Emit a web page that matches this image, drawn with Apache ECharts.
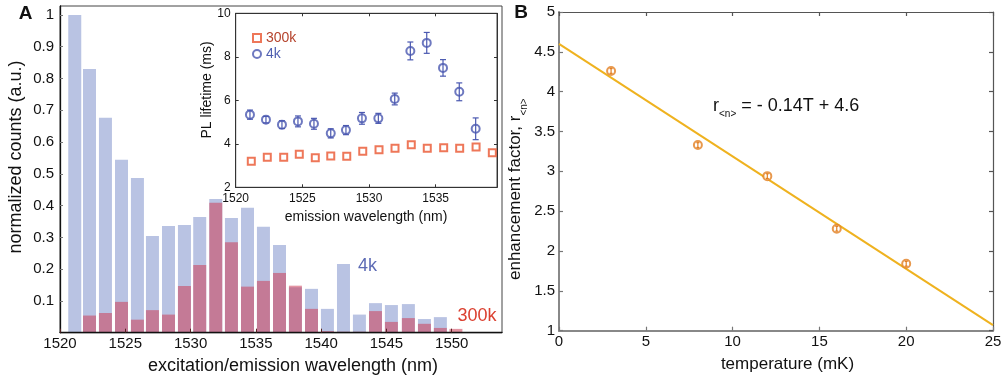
<!DOCTYPE html>
<html><head><meta charset="utf-8">
<script src="https://cdn.jsdelivr.net/npm/echarts@6/dist/echarts.min.js"></script>
<style>html,body{margin:0;padding:0;background:#fff}#c{width:1006px;height:381px}</style>
</head><body><div id="c"></div>
<script>
// ---- Panel A: histogram ----
const wavelengths = [1521.13,1522.26,1523.48,1524.71,1525.93,1527.08,1528.31,1529.53,1530.70,1531.93,1533.13,1534.36,1535.58,1536.81,1538.03,1539.26,1540.48,1541.71,1542.93,1544.16,1545.38,1546.68,1547.91,1549.13,1550.32];
const counts4k = [1.000,0.830,0.676,0.544,0.487,0.304,0.336,0.339,0.364,0.421,0.361,0.393,0.333,0.276,0.143,0.138,0.075,0.216,0.057,0.093,0.087,0.090,0.043,0.049,0];
const counts300k = [0,0.054,0.062,0.097,0.041,0.071,0.057,0.147,0.213,0.409,0.285,0.145,0.163,0.188,0.148,0.075,0.005,0.003,0.003,0.068,0.034,0.046,0.028,0.015,0.012];

// ---- Panel A inset: PL lifetime ----
const insetWl4k = [1521.07,1522.27,1523.47,1524.67,1525.87,1527.13,1528.27,1529.47,1530.70,1531.93,1533.10,1534.33,1535.55,1536.77,1538.00];
const lifetime4k = [5.34,5.11,4.88,5.03,4.92,4.48,4.63,5.17,5.17,6.06,8.27,8.64,7.49,6.39,4.69];
const lifetime4kErr = [0.21,0.15,0.18,0.25,0.25,0.21,0.21,0.27,0.23,0.27,0.41,0.48,0.38,0.41,0.50];
const insetWl300k = [1521.17,1522.37,1523.60,1524.77,1525.97,1527.13,1528.33,1529.53,1530.75,1531.95,1533.17,1534.37,1535.60,1536.80,1538.03,1539.25];
const lifetime300k = [3.20,3.38,3.38,3.52,3.36,3.44,3.43,3.66,3.73,3.80,3.96,3.80,3.82,3.80,3.85,3.59];

// ---- Panel B: enhancement factor ----
const temperatures = [3,8,12,16,20];
const enhancement = [4.26,3.33,2.94,2.28,1.84];
const enhancementErr = [0.03,0.03,0.03,0.03,0.03];
const fitT = [0,25];
const fitR = [4.6,1.07];

const FONT = "'Liberation Sans', Arial, Helvetica, sans-serif";
const chart = echarts.init(document.getElementById('c'), null, {renderer:'canvas'});

function errRenderer(color, cap, lw){
  return function(params, api){
    const lo = api.coord([api.value(0), api.value(1)]);
    const hi = api.coord([api.value(0), api.value(2)]);
    const st = {stroke: color, lineWidth: lw};
    return {type:'group', children:[
      {type:'line', shape:{x1:lo[0],y1:lo[1],x2:hi[0],y2:hi[1]}, style:st},
      {type:'line', shape:{x1:lo[0]-cap,y1:lo[1],x2:lo[0]+cap,y2:lo[1]}, style:st},
      {type:'line', shape:{x1:hi[0]-cap,y1:hi[1],x2:hi[0]+cap,y2:hi[1]}, style:st}
    ]};
  };
}

const plain = v => String(+(+v).toFixed(3));
const lbl = (size, margin, extra) => Object.assign({fontFamily:FONT, fontSize:size, color:'#111', margin:margin, formatter:plain}, extra||{});

const option = {
  animation:false,
  backgroundColor:'#fff',
  grid:[
    {left:60, top:6, width:442, height:326.7, show:true, borderColor:'#444', borderWidth:1, z:0},
    {left:235.7, top:13.3, width:261.3, height:174, show:true, backgroundColor:'#fff', borderColor:'#444', borderWidth:1, z:10},
    {left:559, top:12, width:434, height:318.7, show:false, z:0}
  ],
  legend:{
    data:[{name:'300k', textStyle:{color:'#b5432c'}},{name:'4k', textStyle:{color:'#4f5fb0'}}],
    orient:'vertical', left:252, top:31, padding:0, itemGap:2, itemWidth:8, itemHeight:8,
    textStyle:{fontFamily:FONT, fontSize:14}, z:20, selectedMode:false
  },
  xAxis:[
    {gridIndex:0, type:'value', min:1520, max:1553.85, interval:5, z:3,
     axisLine:{onZero:false, lineStyle:{color:'#111', width:1.3}},
     axisTick:{inside:true, length:4, lineStyle:{color:'#552222'}},
     axisLabel:lbl(15,4,{showMaxLabel:false}), splitLine:{show:false}},
    {gridIndex:1, type:'value', min:1520, max:1539.6, interval:5, z:11,
     axisLine:{onZero:false, lineStyle:{color:'#333', width:1}},
     axisTick:{inside:true, length:3, lineStyle:{color:'#333'}},
     axisLabel:lbl(12,5,{showMaxLabel:false}), splitLine:{show:false}},
    {gridIndex:1, type:'value', position:'top', min:1520, max:1539.6, interval:5, z:11,
     axisLine:{onZero:false, lineStyle:{color:'#333', width:1}},
     axisTick:{inside:true, length:3, lineStyle:{color:'#333'}},
     axisLabel:{show:false}, splitLine:{show:false}},
    {gridIndex:2, type:'value', min:0, max:25, interval:5,
     axisLine:{onZero:false, lineStyle:{color:'#888', width:2}},
     axisTick:{inside:true, length:4, lineStyle:{color:'#777', width:1.2}},
     axisLabel:lbl(15,4), splitLine:{show:false}},
    {gridIndex:2, type:'value', position:'top', min:0, max:25, interval:5,
     axisLine:{onZero:false, lineStyle:{color:'#555', width:1.2}},
     axisTick:{inside:true, length:4, lineStyle:{color:'#555', width:1.2}},
     axisLabel:{show:false}, splitLine:{show:false}}
  ],
  yAxis:[
    {gridIndex:0, type:'value', min:0, max:1.028, interval:0.1, z:3,
     axisLine:{show:true, onZero:false, lineStyle:{color:'#111', width:1.3}},
     axisTick:{show:true, inside:true, length:3, lineStyle:{color:'#777'}},
     axisLabel:lbl(15,6,{showMinLabel:false, showMaxLabel:false}), splitLine:{show:false}},
    {gridIndex:1, type:'value', min:2, max:10, interval:2, z:11,
     axisLine:{show:true, onZero:false, lineStyle:{color:'#333', width:1}},
     axisTick:{show:true, inside:true, length:3, lineStyle:{color:'#333'}},
     axisLabel:lbl(12,5), splitLine:{show:false}},
    {gridIndex:1, type:'value', position:'right', min:2, max:10, interval:2, z:11,
     axisLine:{show:true, onZero:false, lineStyle:{color:'#333', width:1}},
     axisTick:{show:true, inside:true, length:3, lineStyle:{color:'#333'}},
     axisLabel:{show:false}, splitLine:{show:false}},
    {gridIndex:2, type:'value', min:1, max:5, interval:0.5,
     axisLine:{show:true, onZero:false, lineStyle:{color:'#888', width:2}},
     axisTick:{show:true, inside:true, length:4, lineStyle:{color:'#777', width:1.2}},
     axisLabel:lbl(15,4), splitLine:{show:false}},
    {gridIndex:2, type:'value', position:'right', min:1, max:5, interval:0.5,
     axisLine:{show:true, onZero:false, lineStyle:{color:'#555', width:1.2}},
     axisTick:{show:true, inside:true, length:4, lineStyle:{color:'#555', width:1.2}},
     axisLabel:{show:false}, splitLine:{show:false}}
  ],
  series:[
    {name:'bars4k', type:'bar', xAxisIndex:0, yAxisIndex:0, barWidth:13, barGap:'-100%',
     data: wavelengths.map((w,i)=>[w, counts4k[i]]), itemStyle:{color:'#b9c3e3'}, z:2},
    {name:'bars300k', type:'bar', xAxisIndex:0, yAxisIndex:0, barWidth:13, barGap:'-100%',
     data: wavelengths.map((w,i)=>[w, counts300k[i]]), itemStyle:{color:'rgba(205,62,87,0.55)'}, z:2},
    {name:'300k', type:'scatter', xAxisIndex:1, yAxisIndex:1, symbol:'emptyRect', symbolSize:7,
     data: insetWl300k.map((w,i)=>[w, lifetime300k[i]]), itemStyle:{color:'#ea5530', borderWidth:1.3}, z:12},
    {name:'4k', type:'scatter', xAxisIndex:1, yAxisIndex:1, symbol:'emptyCircle', symbolSize:8,
     data: insetWl4k.map((w,i)=>[w, lifetime4k[i]]), itemStyle:{color:'#4a58b0', borderWidth:1.2}, z:12},
    {name:'4kErr', type:'custom', xAxisIndex:1, yAxisIndex:1, z:13,
     data: insetWl4k.map((w,i)=>[w, lifetime4k[i]-lifetime4kErr[i], lifetime4k[i]+lifetime4kErr[i]]),
     renderItem: errRenderer('#4a58b0', 3, 1.2)},
    {name:'fit', type:'line', xAxisIndex:3, yAxisIndex:3, showSymbol:false, symbol:'none',
     data: fitT.map((t,i)=>[t, fitR[i]]), lineStyle:{color:'#efb21f', width:2}, z:2},
    {name:'enh', type:'scatter', xAxisIndex:3, yAxisIndex:3, symbol:'emptyCircle', symbolSize:8,
     data: temperatures.map((t,i)=>[t, enhancement[i]]), itemStyle:{color:'#e27f22', borderWidth:2.2}, z:3},
    {name:'enhErr', type:'custom', xAxisIndex:3, yAxisIndex:3, z:4,
     data: temperatures.map((t,i)=>[t, enhancement[i]-enhancementErr[i], enhancement[i]+enhancementErr[i]]),
     renderItem: errRenderer('#e27f22', 1.5, 1.2)}
  ],
  graphic:[
    {type:'text', x:25.5, y:13.5, z:100, style:{text:'A', font:'bold 19px '+FONT, align:'center', verticalAlign:'middle', fill:'#111'}},
    {type:'text', x:521, y:13, z:100, style:{text:'B', font:'bold 19px '+FONT, align:'center', verticalAlign:'middle', fill:'#111'}},
    {type:'text', x:16, y:157, rotation:Math.PI/2, z:100, style:{text:'normalized counts (a.u.)', font:'18px '+FONT, align:'center', verticalAlign:'middle', fill:'#111'}},
    {type:'text', x:293, y:366, z:100, style:{text:'excitation/emission wavelength (nm)', font:'18px '+FONT, align:'center', verticalAlign:'middle', fill:'#111'}},
    {type:'text', x:366, y:217.5, z:100, style:{text:'emission wavelength (nm)', font:'14px '+FONT, align:'center', verticalAlign:'middle', fill:'#111'}},
    {type:'text', x:207, y:90, rotation:Math.PI/2, z:100, style:{text:'PL lifetime (ms)', font:'14px '+FONT, align:'center', verticalAlign:'middle', fill:'#111'}},
    {type:'text', x:367.5, y:266, z:100, style:{text:'4k', font:'18px '+FONT, align:'center', verticalAlign:'middle', fill:'#5d6bb5'}},
    {type:'text', x:477, y:316.5, z:100, style:{text:'300k', font:'18px '+FONT, align:'center', verticalAlign:'middle', fill:'#db4030'}},
    {type:'text', x:787.5, y:364.5, z:100, style:{text:'temperature (mK)', font:'17px '+FONT, align:'center', verticalAlign:'middle', fill:'#111'}},
    {type:'text', x:507, y:280, rotation:Math.PI/2, z:100, style:{
      text:'{m|enhancement factor, r}{s|<n>}', align:'left', verticalAlign:'top', fill:'#111',
      rich:{m:{fontFamily:FONT, fontSize:17, lineHeight:20, verticalAlign:'top'},
            s:{fontFamily:FONT, fontSize:10, verticalAlign:'bottom', padding:[12,0,0,0]}}}},
    {type:'text', x:713, y:97, z:100, style:{
      text:'{m|r}{s|<n>}{m| = - 0.14T + 4.6}', align:'left', verticalAlign:'top', fill:'#111',
      rich:{m:{fontFamily:FONT, fontSize:18, lineHeight:20, verticalAlign:'top'},
            s:{fontFamily:FONT, fontSize:10, verticalAlign:'bottom', padding:[12,0,0,0]}}}}
  ]
};
chart.setOption(option);
</script>
</body></html>
